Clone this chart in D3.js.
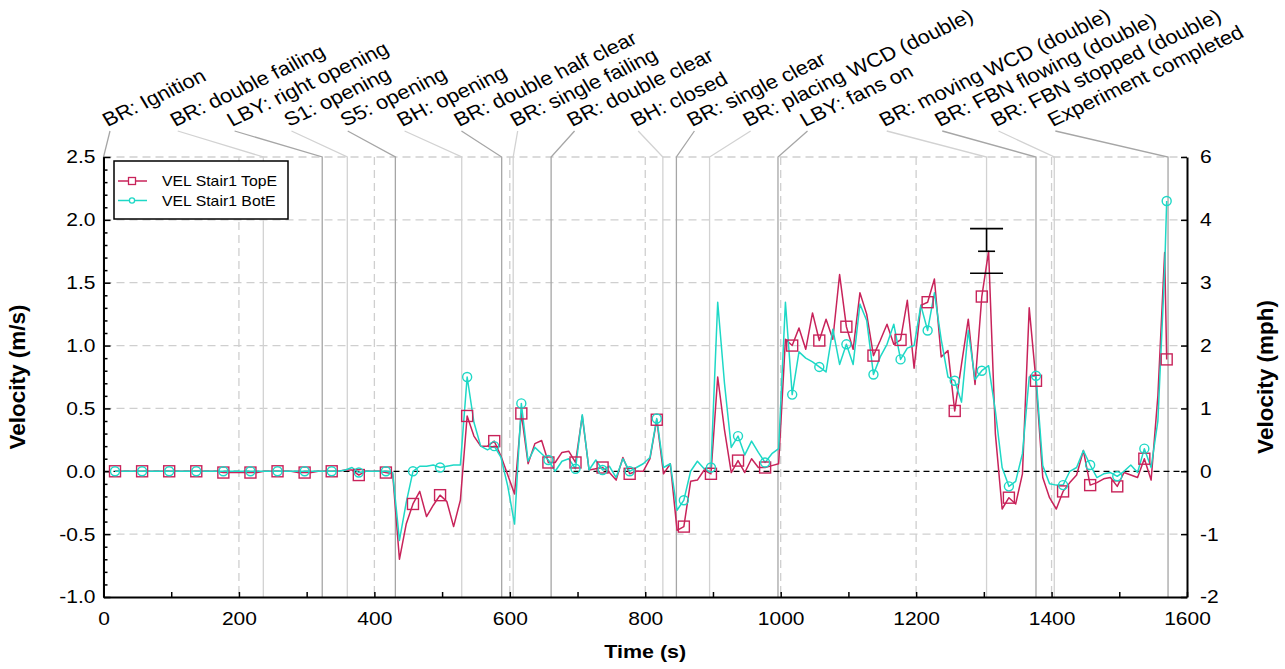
<!DOCTYPE html>
<html><head><meta charset="utf-8">
<script src="https://cdn.jsdelivr.net/npm/d3@7"></script>
<style>
body{margin:0;background:#fff}
svg{display:block}
text{font-family:"Liberation Sans",Arial,Helvetica,sans-serif;fill:#000}
</style>
</head><body>
<svg id="chart" width="1285" height="669"></svg>
<script>
// ---------------- DATA ----------------
const times = [
17,27,37,47,57,67,77,87,97,107,
117,127,137,147,157,167,177,187,197,207,
217,227,237,247,257,267,277,287,297,307,
317,327,337,347,357,367,377,387,397,407,
417,427,437,447,457,467,477,487,497,507,
517,527,537,547,557,567,577,587,597,607,
617,627,637,647,657,667,677,687,697,707,
717,727,737,747,757,767,777,787,797,807,
817,827,837,847,857,867,877,887,897,907,
917,927,937,947,957,967,977,987,997,1007,
1017,1027,1037,1047,1057,1067,1077,1087,1097,1107,
1117,1127,1137,1147,1157,1167,1177,1187,1197,1207,
1217,1227,1237,1247,1257,1267,1277,1287,1297,1307,
1317,1327,1337,1347,1357,1367,1377,1387,1397,1407,
1417,1427,1437,1447,1457,1467,1477,1487,1497,1507,
1517,1527,1537,1547,1557,1567,1570];

const velTopE = [
0,0,0,0,0,0,0,0,0,0,
0,0,0,0,0,0,-0.01,-0.01,-0.01,-0.01,
-0.01,-0.01,0,0,0,0,0,-0.01,-0.01,-0.01,
0,0,0,0,0.01,0.01,-0.03,0,0,0,
-0.01,-0.02,-0.70,-0.42,-0.26,-0.16,-0.36,-0.27,-0.19,-0.24,
-0.44,-0.23,0.44,0.28,0.20,0.20,0.24,0.12,-0.03,-0.18,
0.46,0.06,0.22,0.245,0.07,0.07,0.15,0.16,0.07,0.44,
0.01,0.02,0.03,-0.01,-0.07,0.11,-0.02,0,0,0.10,
0.41,-0.02,0.06,-0.47,-0.44,-0.08,-0.07,0.01,-0.02,0.75,
0.33,-0.01,0.085,-0.01,0.10,0.03,0.03,0.045,0.06,1.05,
1.00,1.14,0.97,1.26,1.04,1.21,1.05,1.565,1.15,0.97,
1.42,1.25,0.92,1.04,1.17,1.01,1.045,1.36,0.82,1.32,
1.345,1.53,0.91,0.96,0.48,0.85,1.21,0.69,1.39,1.75,
0.30,-0.30,-0.21,-0.26,-0.02,1.30,0.72,-0.05,-0.21,-0.30,
-0.16,-0.09,-0.03,0.165,-0.11,-0.09,-0.06,-0.05,-0.12,-0.01,
-0.03,-0.05,0.10,-0.07,0.60,1.74,0.89];

const velBotE = [
0,0,0,0,0,0,0,0,0,0,
0,0,0,0,0,0,0,0,0,0,
0,0,0,0,0,0,0,0,0,0,
0,0,0,0,0.01,0.03,-0.01,0,0,0,
0,-0.01,-0.55,-0.25,0,0.04,0.04,0.05,0.03,0.04,
0.05,0.05,0.75,0.39,0.20,0.17,0.20,0.11,-0.12,-0.42,
0.54,0.08,0.19,0.14,0.09,0,0.08,0.10,0.02,0.45,
0.01,0.09,0.01,0.04,-0.05,0.10,0,0.03,0.06,0.11,
0.42,0.03,0.06,-0.31,-0.23,0,0.08,0.02,0.03,1.345,
0.70,0.19,0.28,0.13,0.24,0.15,0.07,0.14,0.18,1.345,
0.61,0.95,0.90,0.87,0.83,0.79,1.13,0.85,1.01,0.85,
1.33,1.20,0.77,0.91,1.01,1.17,0.89,0.98,1.00,1.32,
1.12,1.42,1.05,0.75,0.72,0.55,1.12,0.73,0.80,0.84,
0.48,0.03,-0.12,-0.08,0.14,0.75,0.76,0.045,-0.10,-0.11,
-0.11,0,0.03,0.165,0.05,-0.05,-0.02,-0.01,-0.04,0,
0.05,-0.01,0.18,0.03,0.40,1.60,2.15];

const seriesNames = ["VEL Stair1 TopE","VEL Stair1 BotE"];

const eventTimes = [0,236,323,360,431,529,588,605,661,826,846,895,996,1304,1377,1404,1572];
const eventLabels = ["BR: Ignition","BR: double failing","LBY: right opening","S1: opening","S5: opening",
  "BH: opening","BR: double half clear","BR: single failing","BR: double clear","BH: closed",
  "BR: single clear","BR: placing WCD (double)","LBY: fans on","BR: moving WCD (double)",
  "BR: FBN flowing (double)","BR: FBN stopped (double)","Experiment completed"];
// where (in seconds) each label's text starts, after de-overlapping
const eventLabelAt = [0,100,184,268,351,435,519,602,686,780,863,946,1030,1147,1229,1312,1396];

const errTime = [1304];
const errMid = [1.75];
const errLow = [1.575];
const errHigh = [1.93];

const xTicksMajor = [0,200,400,600,800,1000,1200,1400,1600];
const xTicksAll = [0,100,200,300,400,500,600,700,800,900,1000,1100,1200,1300,1400,1500,1600];
const yTicks = [-1,-0.5,0,0.5,1,1.5,2,2.5];
const yTickLabels = ["-1.0","-0.5","0.0","0.5","1.0","1.5","2.0","2.5"];
const yMinorTicks = [-0.9,-0.8,-0.7,-0.6,-0.4,-0.3,-0.2,-0.1,0.1,0.2,0.3,0.4,0.6,0.7,0.8,0.9,
  1.1,1.2,1.3,1.4,1.6,1.7,1.8,1.9,2.1,2.2,2.3,2.4];
const yRightTickLabels = ["-2","-1","0","1","2","3","4","6"];

// ---------------- LAYOUT / STYLE ----------------
const L = 103.5, R = 1187, T = 157, B = 597;
const SX = 1.13;          // horizontal text stretch of the original
const colTop = "#c8235a", colBot = "#1ed8c6";
const fontTick = 18.6;

const svg = d3.select("#chart");
const x = d3.scaleLinear().domain([0,1600]).range([L,R]);
const y = d3.scaleLinear().domain([-1,2.5]).range([B,T]);

function stretchTexts(sel){
  sel.each(function(){
    const t = d3.select(this);
    const tx = +t.attr("x") || 0, ty = +t.attr("y") || 0;
    t.attr("x",0).attr("y",0).attr("transform",`translate(${tx},${ty}) scale(${SX},1)`);
  });
}

// grid
const grid = svg.append("g");
grid.selectAll("line.gx").data(xTicksMajor.filter(d=>d>0 && d<1600)).enter().append("line")
  .attr("x1",d=>x(d)).attr("x2",d=>x(d)).attr("y1",T).attr("y2",B)
  .attr("stroke","#cfcfcf").attr("stroke-width",1.3).attr("stroke-dasharray","8,5");
grid.selectAll("line.gy").data(yTicks.filter(d=>d!==0 && d>-1)).enter().append("line")
  .attr("x1",L).attr("x2",R).attr("y1",d=>y(d)).attr("y2",d=>y(d))
  .attr("stroke","#cfcfcf").attr("stroke-width",1.3).attr("stroke-dasharray","8,5");

// event lines + labels
const ev = svg.append("g");
eventTimes.forEach((t,i)=>{
  const ax = x(eventLabelAt[i]) + 4;
  const ex = x(t);
  const col = i%2===0 ? "#a6a6a6" : "#d2d2d2";
  ev.append("path")
    .attr("d",`M${ax+2.5},131 L${ex},${T} L${ex},${B}`)
    .attr("fill","none").attr("stroke",col).attr("stroke-width",1.3);
  ev.append("text")
    .attr("transform",`translate(${ax},127) scale(${SX},1) rotate(-28)`)
    .attr("font-size",19.4).text(eventLabels[i]);
});

// zero line
svg.append("line").attr("x1",L).attr("x2",R).attr("y1",y(0)).attr("y2",y(0))
  .attr("stroke","#000").attr("stroke-width",1.3).attr("stroke-dasharray","6,4");

// axes
const gLeft = svg.append("g").attr("transform",`translate(${L},0)`)
  .call(d3.axisLeft(y).tickValues(yTicks).tickFormat((d,i)=>yTickLabels[i]).tickSize(-7).tickSizeOuter(0).tickPadding(8));
const gLeftMinor = svg.append("g").attr("transform",`translate(${L},0)`)
  .call(d3.axisLeft(y).tickValues(yMinorTicks).tickFormat("").tickSize(-4).tickSizeOuter(0));
const gRight = svg.append("g").attr("transform",`translate(${R},0)`)
  .call(d3.axisRight(y).tickValues(yTicks).tickFormat((d,i)=>yRightTickLabels[i]).tickSize(-6).tickSizeOuter(0).tickPadding(13));
const gBottom = svg.append("g").attr("transform",`translate(0,${B})`)
  .call(d3.axisBottom(x).tickValues(xTicksAll).tickFormat(d=> xTicksMajor.includes(d) ? d : "").tickSize(-5).tickSizeOuter(0).tickPadding(15));

[gLeft,gLeftMinor,gRight,gBottom].forEach(g=>{
  g.select(".domain").attr("stroke","#000").attr("stroke-width",2);
  g.selectAll(".tick line").attr("stroke","#000").attr("stroke-width",1.5);
  g.selectAll("text").attr("font-size",fontTick).attr("font-family",null);
  stretchTexts(g.selectAll("text"));
});

// series
const line = d3.line().x((d,i)=>x(times[i])).y(d=>y(d));
svg.append("path").datum(velTopE).attr("d",line).attr("fill","none").attr("stroke",colTop).attr("stroke-width",1.5).attr("stroke-linejoin","round");
svg.append("path").datum(velBotE).attr("d",line).attr("fill","none").attr("stroke",colBot).attr("stroke-width",1.5).attr("stroke-linejoin","round");

const markIdx = times.map((t,i)=>i).filter(i=> i%4===0 || i===times.length-1);
svg.append("g").selectAll("rect").data(markIdx).enter().append("rect")
  .attr("x",i=>x(times[i])-5.5).attr("y",i=>y(velTopE[i])-5.5).attr("width",11).attr("height",11)
  .attr("fill","none").attr("stroke",colTop).attr("stroke-width",1.4);
svg.append("g").selectAll("circle").data(markIdx).enter().append("circle")
  .attr("cx",i=>x(times[i])).attr("cy",i=>y(velBotE[i])).attr("r",4.5)
  .attr("fill","none").attr("stroke",colBot).attr("stroke-width",1.4);

// error bar
errTime.forEach((t,i)=>{
  const ex = x(t);
  const g = svg.append("g").attr("stroke","#000").attr("stroke-width",1.6);
  g.append("line").attr("x1",ex).attr("x2",ex).attr("y1",y(errHigh[i])).attr("y2",y(errMid[i]));
  g.append("line").attr("x1",ex-16.5).attr("x2",ex+16.5).attr("y1",y(errHigh[i])).attr("y2",y(errHigh[i]));
  g.append("line").attr("x1",ex-16.5).attr("x2",ex+16.5).attr("y1",y(errLow[i])).attr("y2",y(errLow[i]));
  g.append("line").attr("x1",ex-8.5).attr("x2",ex+8.5).attr("y1",y(errMid[i])).attr("y2",y(errMid[i]));
});

// legend
const lg = svg.append("g");
lg.append("rect").attr("x",114).attr("y",161).attr("width",174).attr("height",58)
  .attr("fill","#fff").attr("stroke","#000").attr("stroke-width",1.5);
[[colTop,"sq"],[colBot,"ci"]].forEach((c,i)=>{
  const yy = 181 + i*19.5;
  lg.append("line").attr("x1",118).attr("x2",147).attr("y1",yy).attr("y2",yy).attr("stroke",c[0]).attr("stroke-width",1.5);
  if(c[1]==="sq") lg.append("rect").attr("x",128.5).attr("y",yy-3.5).attr("width",7).attr("height",7).attr("fill","#fff").attr("stroke",c[0]).attr("stroke-width",1.3);
  else lg.append("circle").attr("cx",132).attr("cy",yy).attr("r",2.6).attr("fill","#fff").attr("stroke",c[0]).attr("stroke-width",1.3);
  lg.append("text").attr("transform",`translate(162,${yy+5}) scale(${SX},1)`).attr("font-size",14).text(seriesNames[i]);
});

// axis titles
svg.append("text").attr("transform",`translate(${(L+R)/2},658) scale(${SX},1)`)
  .attr("text-anchor","middle").attr("font-size",19).attr("font-weight","bold").text("Time (s)");
svg.append("text").attr("transform",`translate(25,${(T+B)/2}) rotate(-90)`)
  .attr("text-anchor","middle").attr("font-size",22.5).attr("font-weight","bold").text("Velocity (m/s)");
svg.append("text").attr("transform",`translate(1273,${(T+B)/2}) rotate(-90)`)
  .attr("text-anchor","middle").attr("font-size",22.5).attr("font-weight","bold").text("Velocity (mph)");
</script>
</body></html>
